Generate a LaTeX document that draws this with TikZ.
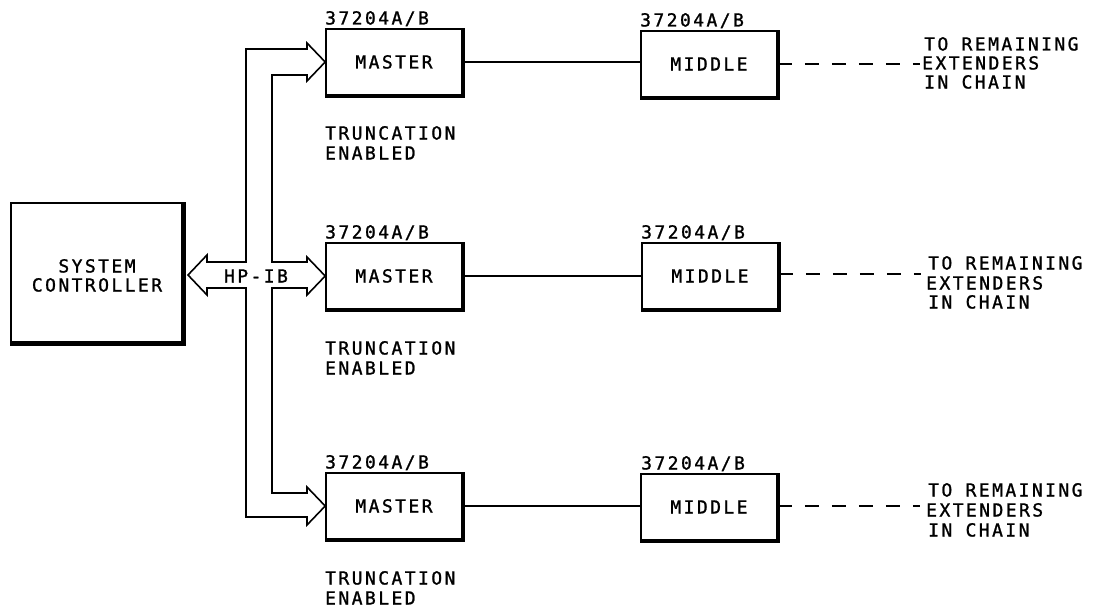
\documentclass[tikz,border=0pt]{standalone}
\usepackage{fontspec}
\newfontfamily\hp{DejaVu Sans Mono}[LetterSpace=13.5,FakeBold=1.2]
\begin{document}
\begin{tikzpicture}[x=1pt,y=-1pt,
  hpfont/.style={font=\hp\fontsize{18}{19.5}\selectfont},
  unit/.style={draw, line width=1.6pt, minimum width=136pt, minimum height=66pt,
    inner sep=0pt, hpfont, text height=13pt, text depth=0pt},
  lbl/.style={hpfont, inner sep=0pt, anchor=west, text height=13pt, text depth=0pt},
  ctr/.style={hpfont, inner sep=0pt, text height=13pt, text depth=0pt},
  shadow/.style={line width=4pt},
  link/.style={line width=1.6pt},
  chain/.style={line width=1.6pt, dash pattern=on 14pt off 13pt},
  bus/.style={line width=1.6pt, line join=miter}]
\useasboundingbox (0,0) rectangle (1101,610);

% system controller
\node[unit, minimum width=172pt, minimum height=140pt] (sc) at (97,273) {};
\draw[line width=5pt] (sc.north east) -- (sc.south east) -- (sc.south west);
\node[ctr] (sc1) at (97,266) {SYSTEM};
\node[ctr] (sc2) at (97,285) {CONTROLLER};

% masters
\node[unit] (m1) at (394,62) {MASTER};
\node[unit] (m2) at (394,276) {MASTER};
\node[unit] (m3) at (394,506) {MASTER};
% middles
\node[unit] (d1) at (709,64) {MIDDLE};
\node[unit] (d2) at (710,276) {MIDDLE};
\node[unit] (d3) at (709,507) {MIDDLE};

\foreach \n in {m1,m2,m3,d1,d2,d3}{
  \draw[shadow] (\n.north east) -- (\n.south east) -- (\n.south west);
}

% part labels
\node[lbl] (l1) at (325,18) {37204A/B};
\node[lbl] (l2) at (325,232) {37204A/B};
\node[lbl] (l3) at (325,462) {37204A/B};
\node[lbl] (l4) at (640,20) {37204A/B};
\node[lbl] (l5) at (641,232) {37204A/B};
\node[lbl] (l6) at (641,463) {37204A/B};

% truncation labels
\node[lbl] (t1a) at (325,133) {TRUNCATION};
\node[lbl] (t1b) at (325,153) {ENABLED};
\node[lbl] (t2a) at (325,348) {TRUNCATION};
\node[lbl] (t2b) at (325,368) {ENABLED};
\node[lbl] (t3a) at (325,578) {TRUNCATION};
\node[lbl] (t3b) at (325,598) {ENABLED};

% links
\draw[link] (m1.east) -- (d1.west |- m1.east);
\draw[link] (m2.east) -- (d2.west |- m2.east);
\draw[link] (m3.east) -- (d3.west |- m3.east);

% chain continuation
\coordinate (e1) at (920,64);
\coordinate (e2) at (921,274);
\coordinate (e3) at (920,506);
\draw[chain] (d1.east) -- (e1);
\draw[chain] (d2.east |- e2) -- (e2);
\draw[chain] (d3.east |- e3) -- (e3);

\node[lbl] (r1a) at (924,44) {TO REMAINING};
\node[lbl] (r1b) at (922,63) {EXTENDERS};
\node[lbl] (r1c) at (924,82) {IN CHAIN};
\node[lbl] (r2a) at (928,263) {TO REMAINING};
\node[lbl] (r2b) at (926,283) {EXTENDERS};
\node[lbl] (r2c) at (928,302) {IN CHAIN};
\node[lbl] (r3a) at (928,490) {TO REMAINING};
\node[lbl] (r3b) at (926,510) {EXTENDERS};
\node[lbl] (r3c) at (928,530) {IN CHAIN};

% HP-IB bus
\draw[bus] (m1.west) -- (307,43) -- (307,49) -- (246,49) -- (246,262) -- (207,262)
  -- (207,255) -- (188,275) -- (207,295) -- (207,288) -- (246,288) -- (246,517)
  -- (307,517) -- (307,525) -- (m3.west) -- (307,487) -- (307,493) -- (272,493)
  -- (272,288) -- (307,288) -- (307,295) -- (m2.west) -- (307,257) -- (307,262)
  -- (272,262) -- (272,75) -- (307,75) -- (307,81) -- cycle;
\node[ctr] (hpib) at (256,276) {HP-IB};
\end{tikzpicture}
\end{document}
